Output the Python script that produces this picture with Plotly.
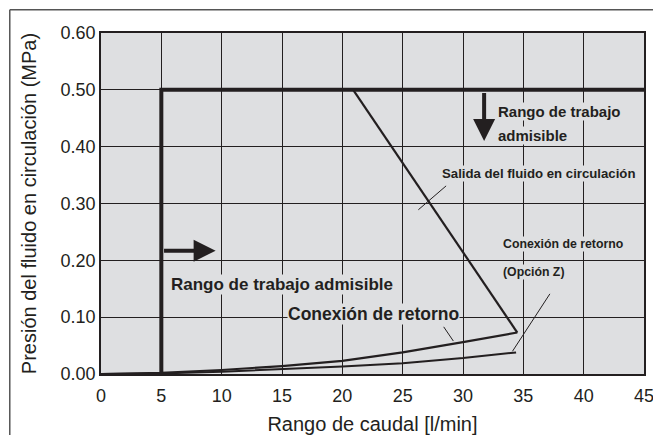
import plotly.graph_objects as go

# Rango de caudal [l/min] vs presión [MPa]
limite_x = [5, 5, 45]
limite_y = [0.0, 0.50, 0.50]

salida_x = [20.9, 34.5]
salida_y = [0.50, 0.073]

retorno_x = [0, 5, 10, 15, 20, 25, 30, 34.5]
retorno_y = [0.0, 0.002, 0.007, 0.014, 0.023, 0.038, 0.056, 0.073]

opcion_z_x = [0, 5, 10, 15, 20, 25, 30, 34.4]
opcion_z_y = [0.0, 0.001, 0.004, 0.008, 0.013, 0.019, 0.028, 0.038]

x_ticks = [0, 5, 10, 15, 20, 25, 30, 35, 40, 45]
y_ticks = [0.0, 0.1, 0.2, 0.3, 0.4, 0.5, 0.6]

BG = "#dedfe1"
INK = "#231f20"
FONT = "Liberation Sans, Arial, sans-serif"
NARROW = "Liberation Sans Narrow, Arial Narrow, Liberation Sans, sans-serif"

fig = go.Figure()

fig.add_trace(go.Scatter(x=opcion_z_x, y=opcion_z_y, mode="lines",
                         line=dict(color=INK, width=2), showlegend=False))
fig.add_trace(go.Scatter(x=retorno_x, y=retorno_y, mode="lines",
                         line=dict(color=INK, width=2.2), showlegend=False))
fig.add_trace(go.Scatter(x=salida_x, y=salida_y, mode="lines",
                         line=dict(color=INK, width=2.2), showlegend=False))
fig.add_trace(go.Scatter(x=limite_x, y=limite_y, mode="lines",
                         line=dict(color=INK, width=4), showlegend=False))

# flechas
fig.add_annotation(x=9.5, y=0.217, ax=5.1, ay=0.217, xref="x", yref="y", axref="x", ayref="y",
                   text="", showarrow=True, arrowhead=2, arrowsize=1.1, arrowwidth=4, arrowcolor=INK)
fig.add_annotation(x=31.75, y=0.41, ax=31.75, ay=0.497, xref="x", yref="y", axref="x", ayref="y",
                   text="", showarrow=True, arrowhead=2, arrowsize=1.1, arrowwidth=4, arrowcolor=INK)

# textos
labels = [
    (5.7, 0.158, "Rango de trabajo admisible", FONT, 17),
    (15.4, 0.105, "Conexión de retorno", FONT, 17.5),
    (32.8, 0.462, "Rango de trabajo", FONT, 15),
    (32.8, 0.419, "admisible", FONT, 15),
    (28.2, 0.353, "Salida del fluido en circulación", NARROW, 13.2),
    (33.2, 0.229, "Conexión de retorno", NARROW, 12.3),
    (33.2, 0.180, "(Opción Z)", NARROW, 12.3),
]
for x, y, txt, fam, size in labels:
    fig.add_annotation(x=x, y=y, xanchor="left", text="<b>%s</b>" % txt, showarrow=False,
                       font=dict(family=fam, size=size, color=INK), bgcolor=BG, borderpad=0)

# líneas guía
guides = [
    (28.6, 0.331, 26.3, 0.289),
    (28.4, 0.083, 29.2, 0.058),
    (37.2, 0.141, 34.1, 0.040),
]
for x0, y0, x1, y1 in guides:
    fig.add_shape(type="line", x0=x0, y0=y0, x1=x1, y1=y1, xref="x", yref="y",
                  line=dict(color=INK, width=1))

# marco exterior
fig.add_shape(type="line", xref="paper", yref="paper", x0=-0.168, y0=1.068, x1=1.04, y1=1.068,
              line=dict(color="#555555", width=1.5))
fig.add_shape(type="line", xref="paper", yref="paper", x0=-0.168, y0=1.068, x1=-0.168, y1=-0.2,
              line=dict(color="#555555", width=1.5))

fig.update_xaxes(range=[0, 45], tickvals=x_ticks, ticktext=[str(v) for v in x_ticks],
                 showgrid=True, gridcolor=INK, gridwidth=1, zeroline=False, automargin=False,
                 showline=True, linecolor=INK, linewidth=1.5, mirror=True, ticks="",
                 tickfont=dict(family=FONT, size=18, color=INK), ticklabelstandoff=5,
                 title=dict(text="Rango de caudal [l/min]", font=dict(family=FONT, size=20, color=INK),
                            standoff=18))
fig.update_yaxes(range=[0, 0.6], tickvals=y_ticks, ticktext=["%.2f" % v for v in y_ticks],
                 showgrid=True, gridcolor=INK, gridwidth=1, zeroline=False, automargin=False,
                 showline=True, linecolor=INK, linewidth=1.5, mirror=True, ticks="",
                 tickfont=dict(family=FONT, size=18, color=INK),
                 title=dict(text="Presión del fluido en circulación (MPa)",
                            font=dict(family=FONT, size=20, color=INK), standoff=19))

# la página añade 8 px de margen al cuerpo
fig.update_layout(width=653, height=427, margin=dict(l=93, r=17, t=25, b=61),
                  paper_bgcolor="white", plot_bgcolor=BG, showlegend=False)

fig.write_html("out.html")
